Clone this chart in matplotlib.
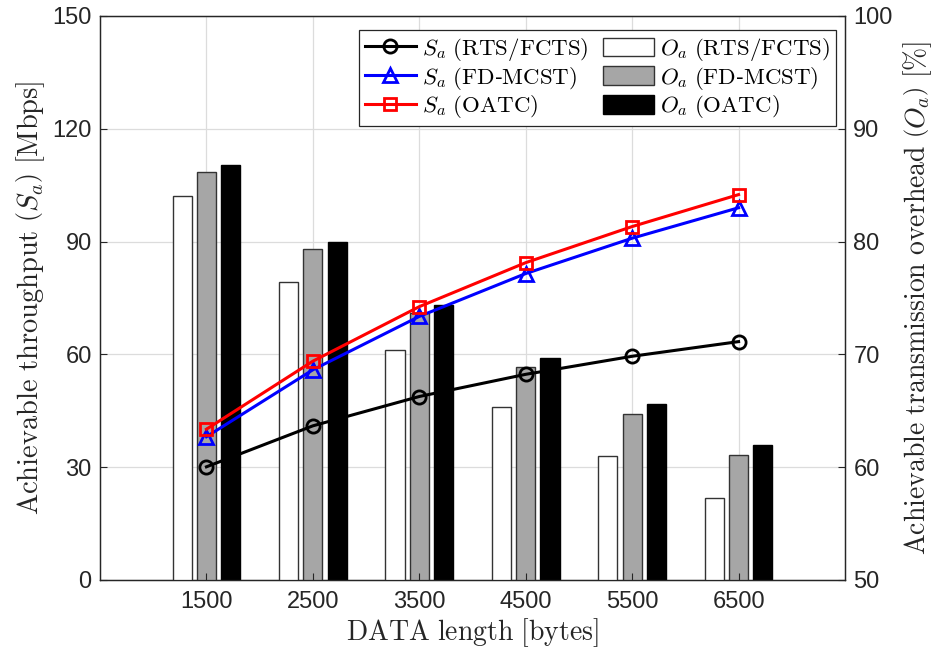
import matplotlib
matplotlib.use("Agg")
import matplotlib.pyplot as plt
import numpy as np
from matplotlib.lines import Line2D
from matplotlib.patches import Patch

plt.rcParams['mathtext.fontset'] = 'cm'
plt.rcParams['font.family'] = ['Liberation Sans', 'DejaVu Sans']

data_len = [1500, 2500, 3500, 4500, 5500, 6500]

thr_rts = [30.1, 41.0, 48.8, 54.7, 59.5, 63.4]
thr_fd = [38.1, 55.9, 70.1, 81.5, 90.9, 99.0]
thr_oatc = [40.1, 58.2, 72.7, 84.4, 94.0, 102.5]

ovh_rts = [84.0, 76.4, 70.4, 65.3, 61.0, 57.3]
ovh_fd = [86.2, 79.3, 73.7, 68.9, 64.7, 61.1]
ovh_oatc = [86.8, 80.0, 74.4, 69.7, 65.6, 62.0]

x_ticks = [1500, 2500, 3500, 4500, 5500, 6500]
left_ticks = [0, 30, 60, 90, 120, 150]
right_ticks = [50, 60, 70, 80, 90, 100]

fig = plt.figure(figsize=(9.41, 6.55), dpi=100)
ax = fig.add_axes([100/941, 1-580/655, 745/941, 564/655])
ax2 = ax.twinx()

ax.set_zorder(2)
ax.patch.set_visible(False)
ax2.set_zorder(1)
ax2.patch.set_visible(True)
ax2.patch.set_facecolor('white')

gridc = '#dcdcdc'
x = np.array(data_len, dtype=float)
for xt in x_ticks:
    ax2.axvline(xt, color=gridc, linewidth=0.9, zorder=0.5)

off = 228
w = 180
edge = '#333333'
ax2.bar(x - off, ovh_rts, width=w, color='white', edgecolor=edge, linewidth=1.0, zorder=3)
ax2.bar(x, ovh_fd, width=w, color='#a6a6a6', edgecolor=edge, linewidth=1.0, zorder=3)
ax2.bar(x + off, ovh_oatc, width=w, color='black', edgecolor='black', linewidth=1.0, zorder=3)
ax2.set_ylim(50, 100)
ax2.set_yticks(right_ticks)
ax2.yaxis.grid(True, color=gridc, linewidth=0.9, zorder=0)
ax2.set_axisbelow(True)

lw = 2.2
ms = 9.5
ax.plot(x, thr_rts, color='black', lw=lw, marker='o', ms=ms, mfc='none', mew=2.0)
ax.plot(x, thr_fd, color='blue', lw=lw, marker='^', ms=ms, mfc='none', mew=2.0)
ax.plot(x, thr_oatc, color='red', lw=lw, marker='s', ms=ms-1, mfc='none', mew=2.0)

ax.set_xlim(500, 7500)
ax.set_ylim(0, 150)
ax.set_xticks(x_ticks)
ax.set_yticks(left_ticks)

tc = '#262626'
for a in (ax, ax2):
    a.tick_params(direction='in', labelsize=17, length=5, width=0.8, colors=tc)
    for s in a.spines.values():
        s.set_color(tc)
        s.set_linewidth(0.9)
ax.tick_params(axis='x', pad=8)
ax.tick_params(axis='y', pad=6)
ax2.tick_params(axis='y', pad=6)

ax.set_xlabel(r'$\mathrm{DATA\ length\ [bytes]}$', fontsize=20, color=tc, labelpad=2)
ax.set_ylabel(r'$\mathrm{Achievable\ throughput\ }\left(S_a\right)\mathrm{\ [Mbps]}$', fontsize=20.5, color=tc, labelpad=4)
ax2.set_ylabel(r'$\mathrm{Achievable\ transmission\ overhead\ }\left(O_a\right)\mathrm{\ [\%]}$', fontsize=20, color=tc, labelpad=6)

handles = [
    Line2D([], [], color='black', lw=lw, marker='o', ms=ms, mfc='none', mew=2.0),
    Line2D([], [], color='blue', lw=lw, marker='^', ms=ms, mfc='none', mew=2.0),
    Line2D([], [], color='red', lw=lw, marker='s', ms=ms-1, mfc='none', mew=2.0),
    Patch(facecolor='white', edgecolor=edge, linewidth=1.0),
    Patch(facecolor='#a6a6a6', edgecolor=edge, linewidth=1.0),
    Patch(facecolor='black', edgecolor='black', linewidth=1.0),
]
labels = [
    r'$S_a\ \mathrm{(RTS/FCTS)}$',
    r'$S_a\ \mathrm{(FD}$-$\mathrm{MCST)}$',
    r'$S_a\ \mathrm{(OATC)}$',
    r'$O_a\ \mathrm{(RTS/FCTS)}$',
    r'$O_a\ \mathrm{(FD}$-$\mathrm{MCST)}$',
    r'$O_a\ \mathrm{(OATC)}$',
]
leg = ax.legend(handles, labels, ncol=2, loc='upper right',
                bbox_to_anchor=(836/941, 1-30/655), bbox_transform=fig.transFigure,
                borderaxespad=0.0,
                fontsize=16.5, frameon=True, fancybox=False, framealpha=1,
                edgecolor=tc, handlelength=2.2, handleheight=0.87, handletextpad=0.28,
                columnspacing=0.65, labelspacing=0.08, borderpad=0.25)
leg.get_frame().set_linewidth(0.9)

fig.savefig('out.png', dpi=100)
